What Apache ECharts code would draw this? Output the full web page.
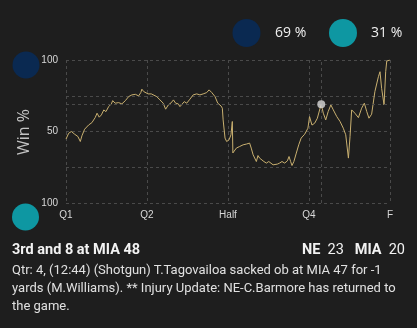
<!DOCTYPE html>
<html>
<head>
<meta charset="utf-8">
<script src="https://cdn.jsdelivr.net/npm/echarts@6/dist/echarts.min.js"></script>
<style>
  html, body { margin: 0; padding: 0; background: #1e1e1e; }
  #wrap { position: relative; width: 417px; height: 328px; overflow: hidden; background: #1e1e1e; }
  #chart { position: absolute; left: 0; top: 0; width: 417px; height: 328px; }
  #info { position: absolute; left: 12px; top: 239px; width: 393px; font-family: Roboto, sans-serif; color: #e6e6e6; }
  #head { display: flex; justify-content: space-between; font-size: 14.5px; line-height: 22px; color: #f2f2f2; }
  #head b { font-weight: 700; }
  #desc { font-size: 13px; line-height: 18px; margin-top: 0px; color: #e0e0e0; }
</style>
</head>
<body>
<div id="wrap">
  <div id="chart"></div>
  <div id="info">
    <div id="head"><span id="situation"></span><span id="score"></span></div>
    <div id="desc"></div>
  </div>
</div>
<script>
// ---- data ----
const gameMinutes = [0, 0.5, 1.0, 1.6, 2.2, 2.65, 2.95, 3.45, 4.2, 4.8, 5.4, 5.75, 6.15, 6.55, 7.0, 7.4, 7.9, 8.4, 8.65, 9.1,
  9.75, 10.35, 11.0, 11.6, 12.2, 12.85, 13.45, 13.85, 14.05, 14.4, 14.7, 15.2, 15.8, 16.8, 17.4, 18.0, 18.45, 18.95, 19.45, 19.9,
  20.3, 20.8, 21.1, 21.4, 21.9, 22.35, 22.95, 23.55, 24.2, 24.8, 25.4, 26.05, 26.5, 27.0, 27.6, 28.1, 28.7, 28.95, 29.1, 29.45,
  29.75, 30.2, 30.55, 30.8, 30.9, 31.55, 32.15, 32.8, 33.4, 34.0, 34.3, 34.65, 34.95, 35.25, 35.55, 35.85, 36.15, 36.65, 37.1, 37.55,
  37.9, 38.35, 38.65, 39.15, 39.55, 40.0, 40.5, 41.0, 41.3, 41.6, 41.85, 42.2, 42.65, 43.1, 43.55, 44.2, 44.8, 45.1, 45.55, 46.05,
  46.55, 47.05, 47.27, 47.65, 48.1, 48.55, 49.05, 49.5, 50.15, 50.75, 51.35, 51.8, 52.3, 52.6, 52.9, 53.5, 54.15, 54.75, 55.25, 55.7,
  56.1, 56.6, 56.9, 57.2, 57.85, 58.15, 58.45, 58.9, 59.2, 59.4, 60];
const neWinPct = [44.7, 48.8, 50, 48.1, 46.5, 43, 47, 51.6, 54.6, 56.2, 59.7, 62.8, 60, 61.6, 65.1, 63.9, 67.4, 69.3, 71.6, 69.8,
  70.2, 69.3, 71.6, 74.4, 75.6, 76, 74.9, 77.2, 79.6, 77.9, 79.1, 76.3, 76.3, 74.4, 72.1, 69.8, 65.6, 68.6, 70, 72.1,
  69.8, 69.3, 67.4, 68.6, 70.9, 69.8, 72.6, 75.6, 76.3, 75.6, 76.3, 77.2, 79.1, 77.2, 74.4, 69.8, 67.9, 66.3, 58.1, 45.4,
  43, 44.2, 47.7, 57, 35, 38.4, 39.5, 40.7, 41.2, 41.9, 38.4, 33.7, 32.5, 29, 33.2, 31.4, 30.2, 29, 27.9, 29,
  27.9, 26.7, 27.9, 27.2, 27.9, 29, 27.9, 29.5, 32.5, 29, 26.2, 29, 34.9, 40.7, 45.4, 48.1, 52.3, 60.4, 54.5, 55.8,
  59.3, 66.3, 69, 62.8, 58.1, 63.9, 68.6, 65.1, 60.4, 57, 52.3, 47.7, 31.4, 46.5, 65.1, 62.8, 59.7, 66.3, 69.8, 63.9,
  59.3, 62.1, 62.8, 77.9, 88.3, 91.8, 80.2, 68.6, 91.8, 99.3, 100];
const quarterTicks = [0, 15, 30, 45, 60];
const quarterLabels = ['Q1', 'Q2', 'Half', 'Q4', 'F'];
const yTickLabels = { 0: '100', 50: '50', 100: '100' };
const teams = ['NE', 'MIA'];
const teamWinPct = [69, 31];
const teamScores = [23, 20];
const teamColors = ['#0a2951', '#0e97a2'];
const currentPlay = { minute: 47.27, winPct: 69 };
const situationText = '3rd and 8 at MIA 48';
const playText = 'Qtr: 4, (12:44) (Shotgun) T.Tagovailoa sacked ob at MIA 47 for -1 yards (M.Williams). ** Injury Update: NE-C.Barmore has returned to the game.';

// ---- build ----
const lineData = gameMinutes.map((m, i) => [m, neWinPct[i]]);
const gridColor = '#4a4a4a';
const labelColor = '#d8d8d8';

document.getElementById('situation').innerHTML = '<b>' + situationText + '</b>';
document.getElementById('score').innerHTML =
  '<b>' + teams[0] + '</b>&nbsp; ' + teamScores[0] + '&nbsp;&nbsp; <b>' + teams[1] + '</b>&nbsp; ' + teamScores[1];
document.getElementById('desc').textContent = playText;

const chart = echarts.init(document.getElementById('chart'), null, { renderer: 'canvas' });
const option = {
  backgroundColor: 'transparent',
  animation: false,
  grid: { left: 66, right: 27, top: 60, bottom: 125, containLabel: false },
  xAxis: {
    type: 'value', min: 0, max: 60, interval: 15,
    axisLine: { show: false }, axisTick: { show: false },
    splitLine: { show: true, lineStyle: { color: gridColor, type: [3, 3], width: 1 } },
    axisLabel: {
      color: labelColor, fontSize: 10, fontFamily: 'Liberation Sans, Arial, sans-serif', margin: 7,
      formatter: v => { const i = quarterTicks.indexOf(v); return i >= 0 ? quarterLabels[i] : ''; }
    }
  },
  yAxis: {
    type: 'value', min: 0, max: 100, interval: 25,
    axisLine: { show: false }, axisTick: { show: false },
    splitLine: { show: true, lineStyle: { color: gridColor, type: [3, 3], width: 1 } },
    axisLabel: {
      color: labelColor, fontSize: 10, fontFamily: 'Liberation Sans, Arial, sans-serif', margin: 8,
      formatter: v => (yTickLabels[v] !== undefined ? yTickLabels[v] : '')
    }
  },
  graphic: [
    { type: 'circle', shape: { cx: 246.5, cy: 33, r: 14 }, style: { fill: teamColors[0] } },
    { type: 'text', x: 275, y: 33, style: { text: teamWinPct[0] + ' %', fill: '#f0f0f0', font: '14px "Open Sans", sans-serif', verticalAlign: 'middle' } },
    { type: 'circle', shape: { cx: 343, cy: 33, r: 14 }, style: { fill: teamColors[1] } },
    { type: 'text', x: 371, y: 33, style: { text: teamWinPct[1] + ' %', fill: '#f0f0f0', font: '14px "Open Sans", sans-serif', verticalAlign: 'middle' } },
    { type: 'circle', shape: { cx: 26, cy: 65, r: 13.5 }, style: { fill: teamColors[0] } },
    { type: 'circle', shape: { cx: 25.5, cy: 217, r: 13.5 }, style: { fill: teamColors[1] } },
    { type: 'text', x: 24, y: 132, rotation: Math.PI / 2, style: { text: 'Win %', fill: '#c4c4c4', font: '16px "Open Sans", sans-serif', align: 'center', verticalAlign: 'middle' } }
  ],
  series: [{
    type: 'line',
    data: lineData,
    showSymbol: false,
    symbol: 'none',
    lineStyle: { color: '#c9b070', width: 1 },
    markLine: {
      silent: true, symbol: 'none', label: { show: false },
      lineStyle: { color: gridColor, type: [3, 3], width: 1 },
      data: [{ xAxis: currentPlay.minute }, { yAxis: currentPlay.winPct }]
    },
    z: 3
  }, {
    type: 'scatter',
    data: [[currentPlay.minute, currentPlay.winPct]],
    symbolSize: 8,
    itemStyle: { color: '#d9d9d9' },
    z: 5
  }]
};
chart.setOption(option);
</script>
</body>
</html>
